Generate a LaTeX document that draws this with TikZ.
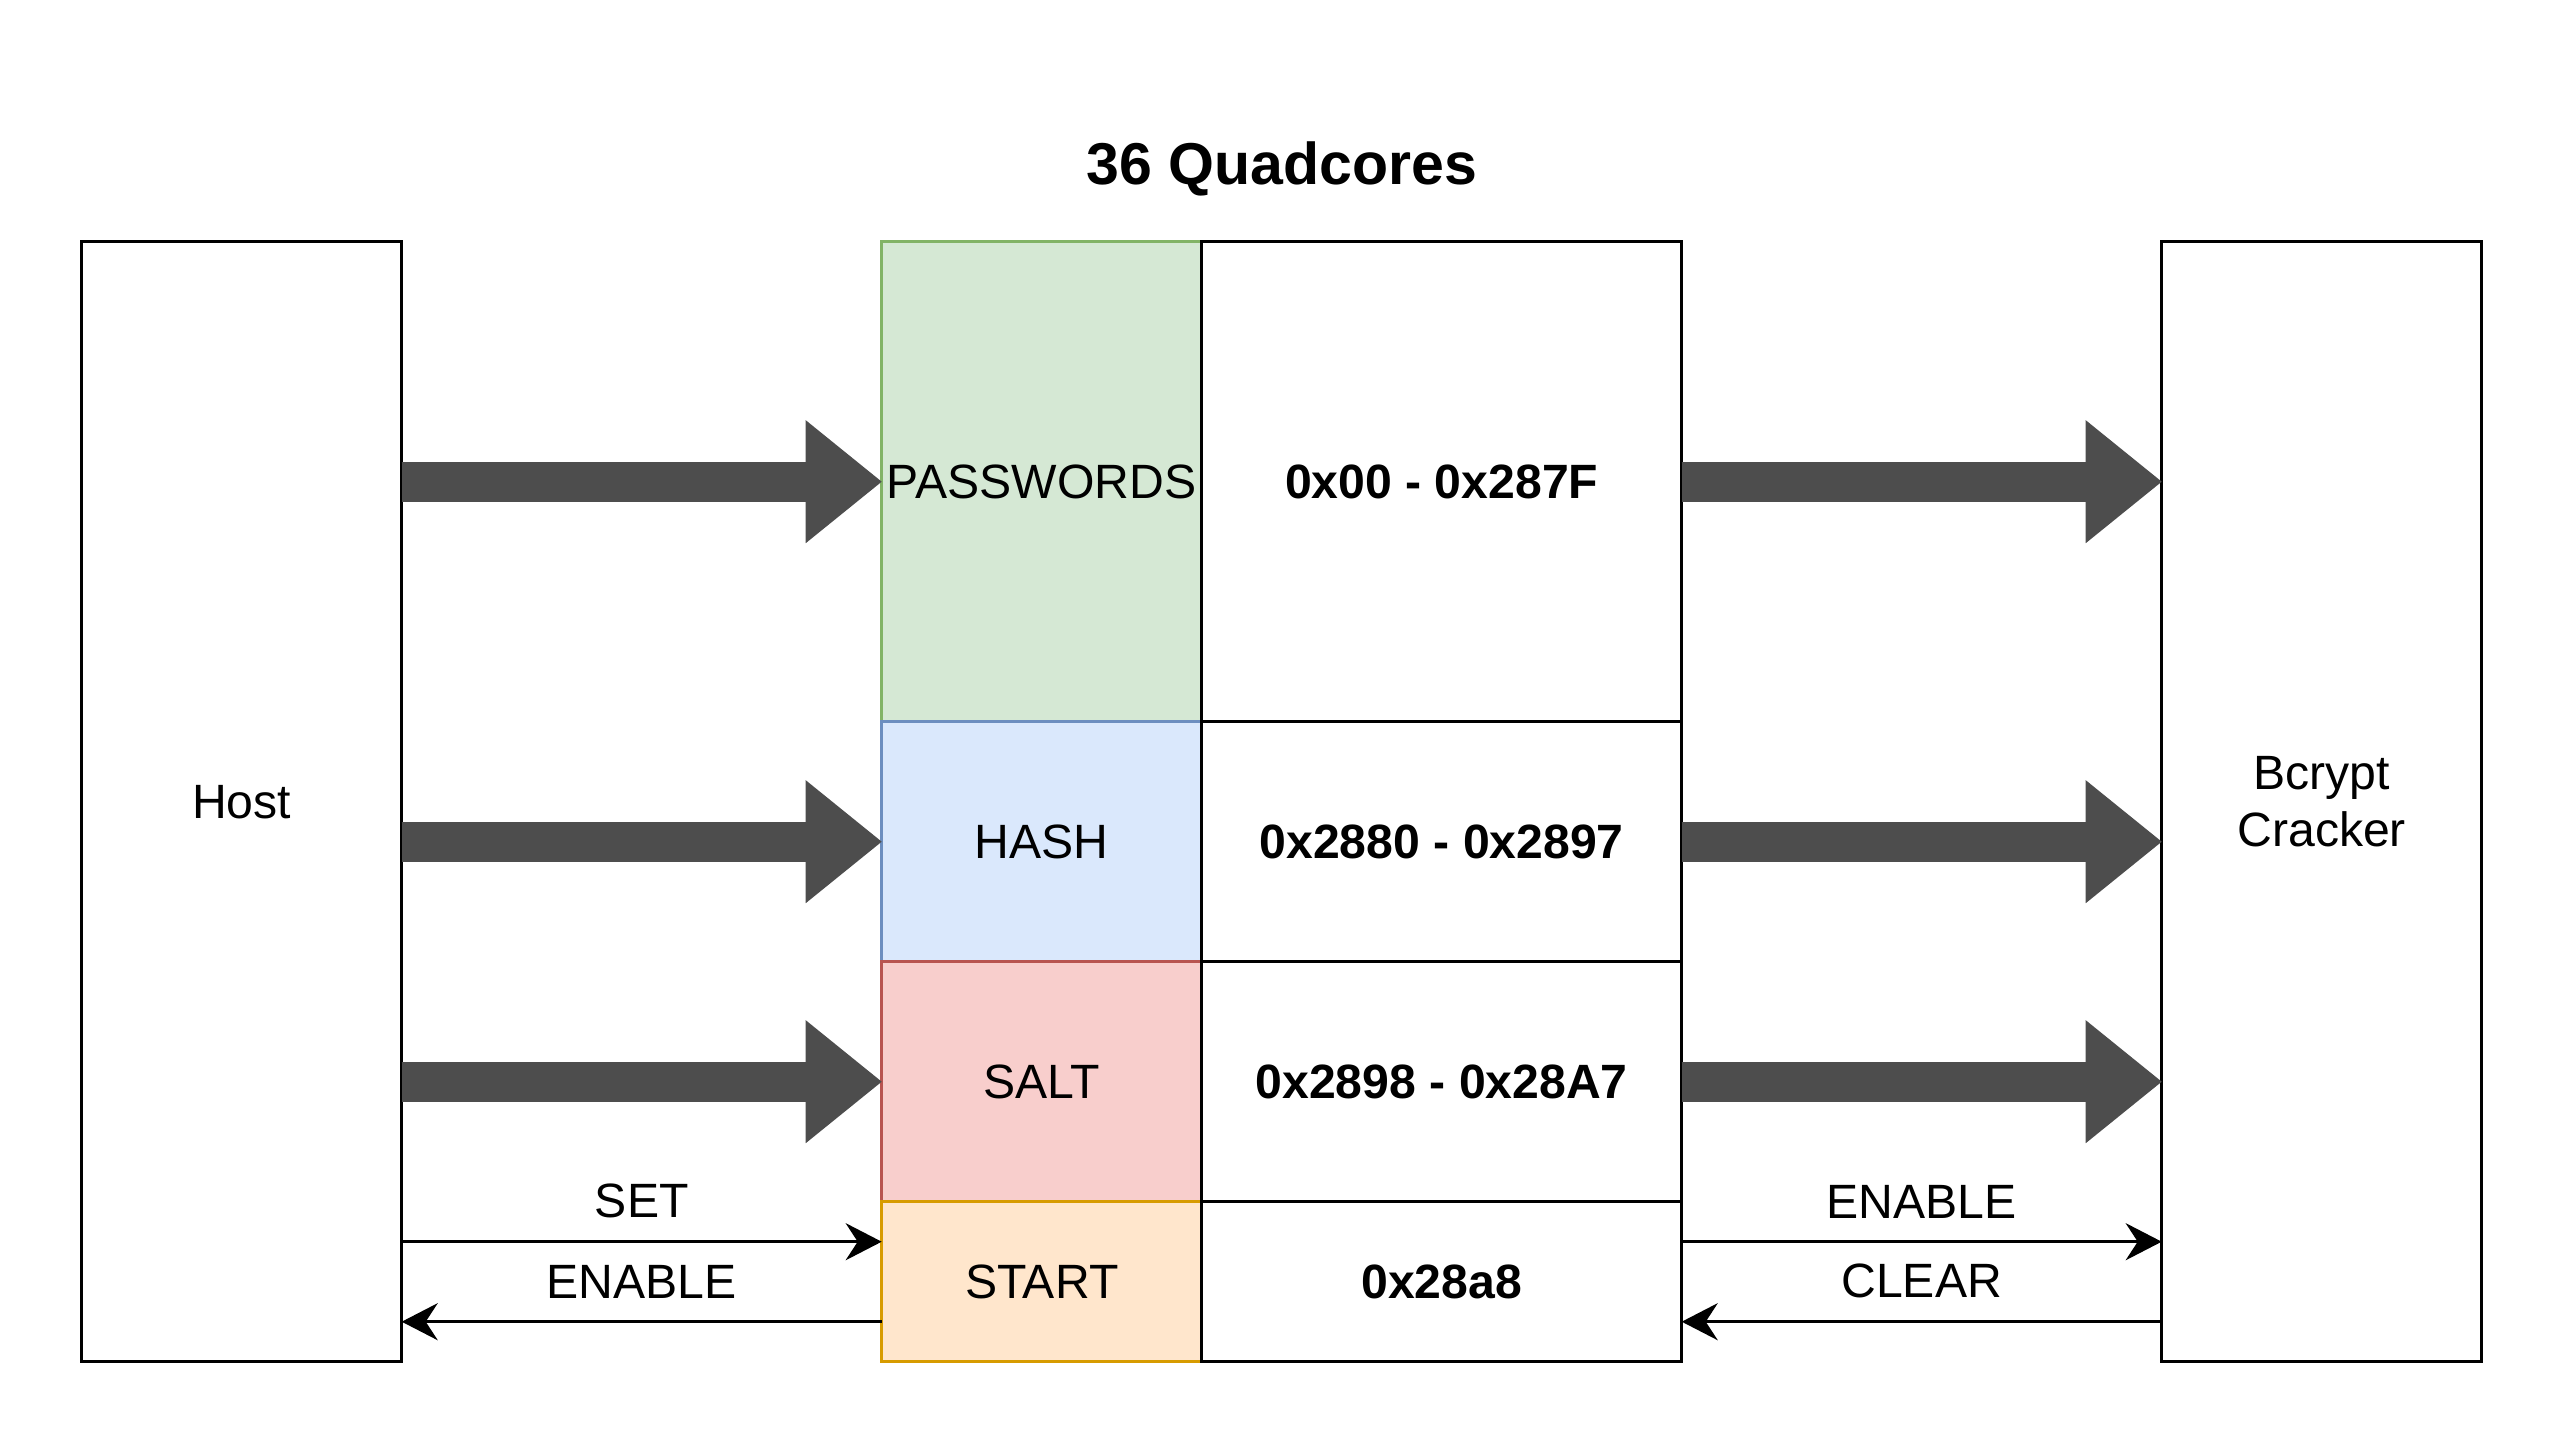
\documentclass[tikz,border=0pt]{standalone}
\usepackage{fontspec}
\setmainfont{Liberation Sans}
\usetikzlibrary{arrows.meta,positioning}
\definecolor{pwfill}{HTML}{D5E8D4}
\definecolor{pwline}{HTML}{82B366}
\definecolor{hashfill}{HTML}{DAE8FC}
\definecolor{hashline}{HTML}{6C8EBF}
\definecolor{saltfill}{HTML}{F8CECC}
\definecolor{saltline}{HTML}{B85450}
\definecolor{startfill}{HTML}{FFE6CC}
\definecolor{startline}{HTML}{D79B00}
\definecolor{bigarrow}{HTML}{4D4D4D}
\tikzset{
	box/.style={draw,rectangle,align=center,line width=0.95pt,inner sep=0pt,outer sep=0pt,minimum width=3.2cm,font=\fontsize{13.7}{16}\selectfont},
	reg/.style={box,minimum width=4.8cm,font=\fontsize{13.7}{16}\selectfont\bfseries},
	pwcell/.style={fill=pwfill,draw=pwline},
	hashcell/.style={fill=hashfill,draw=hashline},
	saltcell/.style={fill=saltfill,draw=saltline},
	startcell/.style={fill=startfill,draw=startline},
	big/.style={line width=4mm,draw=bigarrow,-{Triangle[length=7.6mm,width=12.3mm,line width=0pt]}},
	sig/.style={line width=0.95pt,-{Stealth[length=3.6mm,width=3.7mm,inset=1.2mm]}},
	lbl/.style={midway,above=2.2mm,inner sep=0pt,font=\fontsize{13.7}{16}\selectfont}
}
\begin{document}
\begin{tikzpicture}
			\useasboundingbox (0,0) rectangle (25.64,-14.44);
			\node[font=\fontsize{16.8}{20}\selectfont\bfseries,anchor=base] (title) at (12.82,-1.85) {36 Quadcores};
			\node[box,minimum height=11.2cm] (host) at (2.417,-8.017) {Host};
			\node[box,minimum height=11.2cm] (bcrypt) at (23.217,-8.017) {Bcrypt\\Cracker};
			\node[box,pwcell,minimum height=4.8cm] (pw) at (10.417,-4.817) {PASSWORDS};
			\node[box,hashcell,minimum height=2.4cm,below=0pt of pw] (hash) {HASH};
			\node[box,saltcell,minimum height=2.4cm,below=0pt of hash] (salt) {SALT};
			\node[box,startcell,minimum height=1.6cm,below=0pt of salt] (start) {START};
			\node[reg,minimum height=4.8cm,right=0pt of pw] (pwreg) {0x00 - 0x287F};
			\node[reg,minimum height=2.4cm,right=0pt of hash] (hashreg) {0x2880 - 0x2897};
			\node[reg,minimum height=2.4cm,right=0pt of salt] (saltreg) {0x2898 - 0x28A7};
			\node[reg,minimum height=1.6cm,right=0pt of start] (startreg) {0x28a8};
			\coordinate (setrow) at (0,-12.417);
			\coordinate (backrow) at (0,-13.217);
			
			\draw[big] (host.east |- pw.west) -- (pw.west);
			\draw[big] (host.east |- hash.west) -- (hash.west);
			\draw[big] (host.east |- salt.west) -- (salt.west);
			\draw[big] (pwreg.east) -- (bcrypt.west |- pwreg.east);
			\draw[big] (hashreg.east) -- (bcrypt.west |- hashreg.east);
			\draw[big] (saltreg.east) -- (bcrypt.west |- saltreg.east);
			\draw[sig] (host.east |- setrow) -- (start.west |- setrow) node[lbl] {SET};
			\draw[sig] (start.west |- backrow) -- (host.east |- backrow) node[lbl] {ENABLE};
			\draw[sig] (startreg.east |- setrow) -- (bcrypt.west |- setrow) node[lbl] {ENABLE};
			\draw[sig] (bcrypt.west |- backrow) -- (startreg.east |- backrow) node[lbl] {CLEAR};
		\end{tikzpicture}
\end{document}
